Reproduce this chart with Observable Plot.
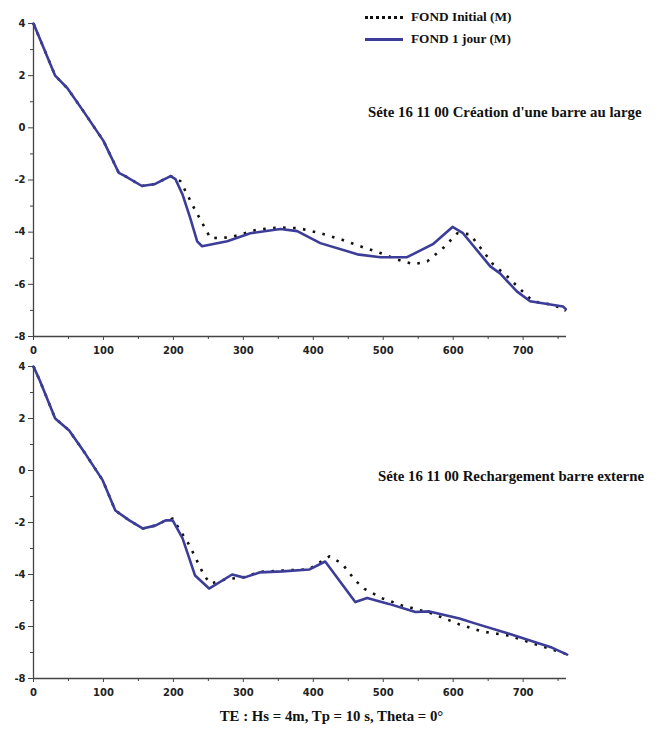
<!DOCTYPE html>
<html>
<head>
<meta charset="utf-8">
<script src="https://cdn.jsdelivr.net/npm/d3@7"></script>
<script src="https://cdn.jsdelivr.net/npm/@observablehq/plot@0.6"></script>
<style>
  html, body { margin: 0; padding: 0; background: #fff; }
  #wrap { position: relative; width: 663px; height: 730px; }
  #top, #bottom { position: absolute; left: 0; }
  #top { top: 0; }
  #bottom { top: 362px; }
  .serif { position: absolute; font-family: "Liberation Serif", "Times New Roman", serif; font-weight: bold; color: #111; white-space: nowrap; line-height: 1.15; }
  .leg { font-size: 13.3px; }
  .ttl { font-size: 14.8px; }
  .swatch { position: absolute; width: 38px; height: 0; }
</style>
</head>
<body>
<div id="wrap">
  <div id="top"></div>
  <div id="bottom"></div>
</div>
<script>
// ---- Data ----
const seriesNames = ["FOND Initial (M)", "FOND 1 jour (M)"];
const titleTop = "Séte 16 11 00 Création d'une barre au large";
const titleBottom = "Séte 16 11 00 Rechargement barre externe";
const caption = "TE : Hs = 4m, Tp = 10 s, Theta = 0°";

const xTicks = [0, 100, 200, 300, 400, 500, 600, 700];
const xMinorTicks = [50, 150, 250, 350, 450, 550, 650, 750];
const yTicks = [-8, -6, -4, -2, 0, 2, 4];
const yMinorTicks = [-7, -5, -3, -1, 1, 3];

// Top panel: FOND 1 jour
const xTopJour = [0, 31, 49, 71, 100, 122, 131, 155, 174, 196, 203, 213, 224, 234, 241, 277, 310, 353, 377, 410, 463, 496, 534, 571, 599, 614, 653, 667, 691, 710, 739, 757, 761];
const yTopJour = [4, 2, 1.5, 0.65, -0.5, -1.73, -1.85, -2.23, -2.15, -1.85, -1.97, -2.55, -3.45, -4.35, -4.54, -4.35, -4.04, -3.88, -3.96, -4.42, -4.85, -4.96, -4.96, -4.46, -3.8, -4.04, -5.31, -5.58, -6.27, -6.65, -6.77, -6.85, -6.95];
// Top panel: FOND Initial
const xTopInit = [0, 31, 49, 71, 100, 122, 131, 155, 174, 196, 210, 230, 253, 281, 320, 353, 380, 410, 439, 467, 496, 519, 543, 563, 586, 606, 624, 639, 657, 677, 696, 714, 739, 757, 761];
const yTopInit = [4, 2, 1.5, 0.65, -0.5, -1.73, -1.85, -2.23, -2.15, -1.85, -2.04, -3.1, -4.23, -4.2, -3.9, -3.82, -3.85, -4.04, -4.27, -4.54, -4.8, -5.04, -5.23, -5.12, -4.6, -4.04, -4.08, -4.6, -5.23, -5.69, -6.19, -6.65, -6.77, -6.92, -7.02];

// Bottom panel: FOND 1 jour
const xBotJour = [0, 9, 31, 51, 74, 99, 117, 137, 156, 174, 189, 199, 213, 231, 251, 284, 301, 323, 356, 394, 417, 460, 477, 508, 546, 566, 609, 631, 674, 723, 741, 763];
const yBotJour = [4, 3.46, 2, 1.54, 0.65, -0.38, -1.54, -1.92, -2.23, -2.12, -1.92, -1.92, -2.6, -4.04, -4.54, -4.0, -4.12, -3.92, -3.88, -3.81, -3.5, -5.06, -4.9, -5.13, -5.44, -5.42, -5.69, -5.88, -6.23, -6.65, -6.81, -7.08];
// Bottom panel: FOND Initial
const xBotInit = [0, 9, 31, 51, 74, 99, 117, 137, 156, 174, 189, 199, 223, 244, 253, 274, 301, 323, 356, 394, 423, 441, 460, 473, 499, 527, 570, 609, 641, 680, 723, 760];
const yBotInit = [4, 3.46, 2, 1.54, 0.65, -0.38, -1.54, -1.92, -2.23, -2.12, -1.92, -1.85, -2.88, -4.04, -4.35, -4.19, -4.1, -3.9, -3.85, -3.8, -3.3, -3.58, -4.23, -4.55, -4.92, -5.19, -5.5, -5.92, -6.19, -6.35, -6.73, -7.04];

// ---- Styling ----
const blue = "#3b3d98";
const axisColor = "#444";

function toRows(xs, ys) { return xs.map((x, i) => ({x, y: ys[i]})); }

function panel(init, jour, height, marginTop, marginBottom) {
  return Plot.plot({
    width: 663,
    height,
    marginLeft: 33,
    marginRight: 97,
    marginTop,
    marginBottom,
    x: {domain: [0, 762]},
    y: {domain: [-8, 4]},
    style: {fontFamily: "'DejaVu Sans', sans-serif", fontSize: "10px", fontWeight: "bold", color: "#222", background: "white", overflow: "visible"},
    marks: [
      Plot.ruleX([0], {y1: -8, y2: 4, stroke: axisColor, strokeWidth: 1.3}),
      Plot.ruleY([-8], {x1: 0, x2: 762, stroke: axisColor, strokeWidth: 1.3}),
      Plot.axisX({ticks: xTicks, tickSize: 4, tickPadding: 6, tickFormat: d => String(d), label: null, stroke: axisColor}),
      Plot.axisX({ticks: xMinorTicks, tickSize: 3, tickFormat: () => "", label: null, stroke: axisColor}),
      Plot.axisY({ticks: yTicks, tickSize: 5, tickPadding: 3, tickFormat: d => String(d), label: null, stroke: axisColor}),
      Plot.axisY({ticks: yMinorTicks, tickSize: 3, tickFormat: () => "", label: null, stroke: axisColor}),
      Plot.line(init, {x: "x", y: "y", stroke: "#111", strokeWidth: 2.6, strokeDasharray: "2.6 7.4", strokeLinecap: "butt"}),
      Plot.line(jour, {x: "x", y: "y", stroke: blue, strokeWidth: 2.6, strokeLinejoin: "round"})
    ]
  });
}

document.getElementById("top").append(panel(toRows(xTopInit, yTopInit), toRows(xTopJour, yTopJour), 362, 23, 26));
document.getElementById("bottom").append(panel(toRows(xBotInit, yBotInit), toRows(xBotJour, yBotJour), 342, 4, 26));

// ---- Legend, titles and caption (HTML overlay) ----
const wrap = document.getElementById("wrap");
function addText(txt, cls, left, top) {
  const d = document.createElement("div");
  d.className = "serif " + cls;
  d.textContent = txt;
  d.style.left = left + "px";
  d.style.top = top + "px";
  wrap.append(d);
  return d;
}
function addSwatch(left, top, style) {
  const s = document.createElement("div");
  s.className = "swatch";
  s.style.left = left + "px";
  s.style.top = top + "px";
  Object.assign(s.style, style);
  wrap.append(s);
}
addSwatch(365, 16, {borderTop: "3px dotted #111"});
addText(seriesNames[0], "leg", 411, 9);
addSwatch(365, 38, {borderTop: "3px solid " + blue});
addText(seriesNames[1], "leg", 411, 31);
addText(titleTop, "ttl", 368, 104);
addText(titleBottom, "ttl", 378, 468);
const cap = addText(caption, "ttl", 0, 708);
cap.style.left = "0px"; cap.style.width = "663px"; cap.style.textAlign = "center";
</script>
</body>
</html>
